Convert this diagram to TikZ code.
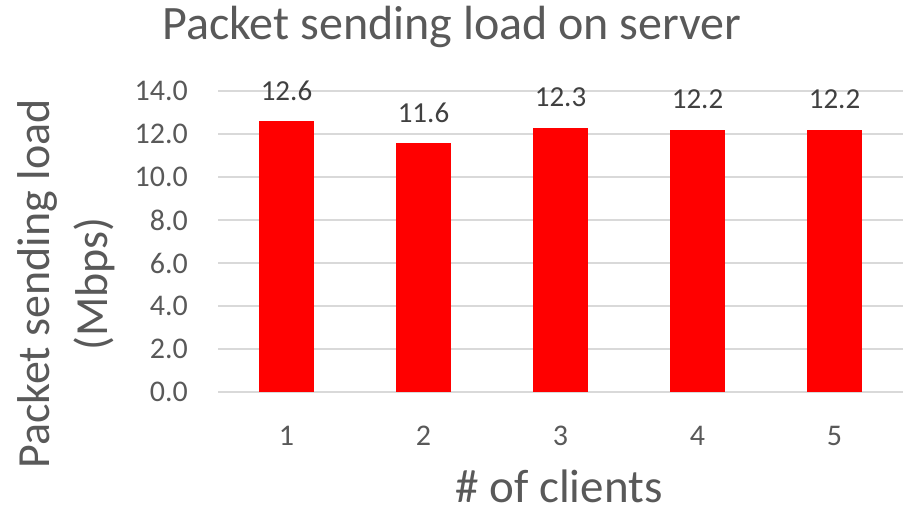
\documentclass[tikz,border=0pt]{standalone}
\usepackage{fontspec}
\setmainfont{Carlito}
\definecolor{txt}{HTML}{595959}
\definecolor{lbl}{HTML}{404040}
\definecolor{grid}{HTML}{D9D9D9}
\definecolor{barred}{HTML}{FF0000}
\begin{document}
\begin{tikzpicture}[x=1pt,y=-1pt,
  gridline/.style={draw=grid,line width=1.6pt},
  barbox/.style={fill=barred,draw=none},
  ticklbl/.style={text=txt,font=\fontsize{30}{36}\selectfont,anchor=east,inner sep=0pt},
  catlbl/.style={text=txt,font=\fontsize{30}{36}\selectfont,inner sep=0pt},
  datalbl/.style={text=lbl,font=\fontsize{29}{35}\selectfont,inner sep=0pt},
  bigtitle/.style={text=txt,font=\fontsize{48}{56}\selectfont,inner sep=0pt}]
\useasboundingbox (0,0) rectangle (905,509);
% gridlines and tick labels
\foreach \v [count=\i from 0] in {0.0,2.0,4.0,6.0,8.0,10.0,12.0,14.0}{
  \coordinate (gl\i) at (218,{392-\i*43});
  \coordinate (gr\i) at (903,{392-\i*43});
  \draw[gridline] (gl\i) -- (gr\i);
  \node[ticklbl] (t\i) at (188,{392-\i*43}) {\v};
}
% bars
\foreach \val [count=\i] in {12.6,11.6,12.3,12.2,12.2}{
  \pgfmathsetmacro{\cx}{286.5+(\i-1)*137}
  \pgfmathsetmacro{\top}{392-\val*21.5}
  \fill[barbox] ({\cx-27.5},392) rectangle ({\cx+27.5},\top);
  \node[datalbl] (d\i) at (\cx,{\top-30}) {\val};
  \node[catlbl] (c\i) at (\cx,436) {\i};
}
\node[bigtitle,anchor=base] (title) at (452,39) {Packet sending load on server};
\node[bigtitle,anchor=base,font=\fontsize{47}{56}\selectfont] (xt) at (559,502) {\# of clients};
\node[bigtitle,rotate=90,align=center,font=\fontsize{46}{58}\selectfont] (yt) at (66,284) {Packet sending load\\(Mbps)};
\end{tikzpicture}
\end{document}
